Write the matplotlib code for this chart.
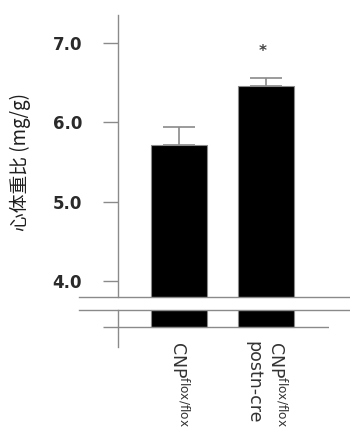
import matplotlib
matplotlib.use("Agg")
import matplotlib.pyplot as plt
from matplotlib.lines import Line2D

# ---- data ----
categories = ["CNP$^{\\mathrm{flox/flox}}$", "CNP$^{\\mathrm{flox/flox}}$\npostn-cre"]
values = [5.71, 6.46]
errors = [0.23, 0.10]
yticks = [4.0, 5.0, 6.0, 7.0]
ytick_labels = ["4.0", "5.0", "6.0", "7.0"]
ylabel = "心体重比 (mg/g)"
sig_marks = ["", "*"]

W, H = 350, 448
fig = plt.figure(figsize=(W / 100, H / 100), dpi=100)
plt.rcParams["mathtext.fontset"] = "dejavusans"

def frac(x0, x1, ytop, ybot):
    return [x0 / W, 1 - ybot / H, (x1 - x0) / W, (ybot - ytop) / H]

gray = "#8a8a8a"
ax = fig.add_axes(frac(118, 329, 15, 297))
ax2 = fig.add_axes(frac(118, 329, 310, 347))

x = list(range(len(values)))
bw = 0.644
for a in (ax, ax2):
    a.bar(x, values, width=bw, color="black", edgecolor=gray, linewidth=0.8, zorder=2)
    a.set_xlim(-0.701, 1.724)
    for s in ("top", "right", "bottom"):
        a.spines[s].set_visible(False)
    a.spines["left"].set_color(gray)
    a.spines["left"].set_linewidth(1.0)
    a.patch.set_alpha(0)

ax.errorbar(x, values, yerr=[[0] * len(values), errors], fmt="none",
            ecolor=gray, elinewidth=1.2, capsize=11.5, capthick=1.2, zorder=3)

ax.set_ylim(3.801, 7.348)
ax.set_yticks(yticks)
ax.set_yticklabels(ytick_labels, fontsize=12, fontweight="bold", color="#2a2a2a",
                   family="DejaVu Sans")
ax.tick_params(axis="y", direction="out", length=10.8, width=1.0, color=gray, pad=15)
ax.set_xticks([])

for xi, v, e, m in zip(x, values, errors, sig_marks):
    if m:
        ax.text(xi - 0.04, v + e + 0.33, m, ha="center", va="center", fontsize=11,
                fontweight="bold", color="#444444")

ax2.set_ylim(-0.252, 0.214)
ax2.set_yticks([0])
ax2.set_yticklabels([""])
ax2.tick_params(axis="y", direction="out", length=10.8, width=1.0, color=gray)
ax2.axhline(0, color=gray, linewidth=1.0, zorder=3)
ax2.set_xticks(x)
ax2.set_xticklabels(categories, rotation=-90, fontsize=12.5, color="#333333",
                    family="DejaVu Sans", va="top", ha="center",
                    multialignment="left", linespacing=1.25)
ax2.tick_params(axis="x", length=0, pad=-4)

# axis break lines
for yb in (297, 310):
    fig.add_artist(Line2D([79 / W, 1.0], [1 - yb / H, 1 - yb / H], color=gray,
                          linewidth=1.0, transform=fig.transFigure, zorder=5))

fig.text(20 / W, 1 - 162 / H, ylabel, rotation=90, ha="center", va="center",
         fontsize=13.5, color="#1e1e1e", family=["Noto Sans CJK SC", "DejaVu Sans"])

fig.savefig("out.png", dpi=100)
